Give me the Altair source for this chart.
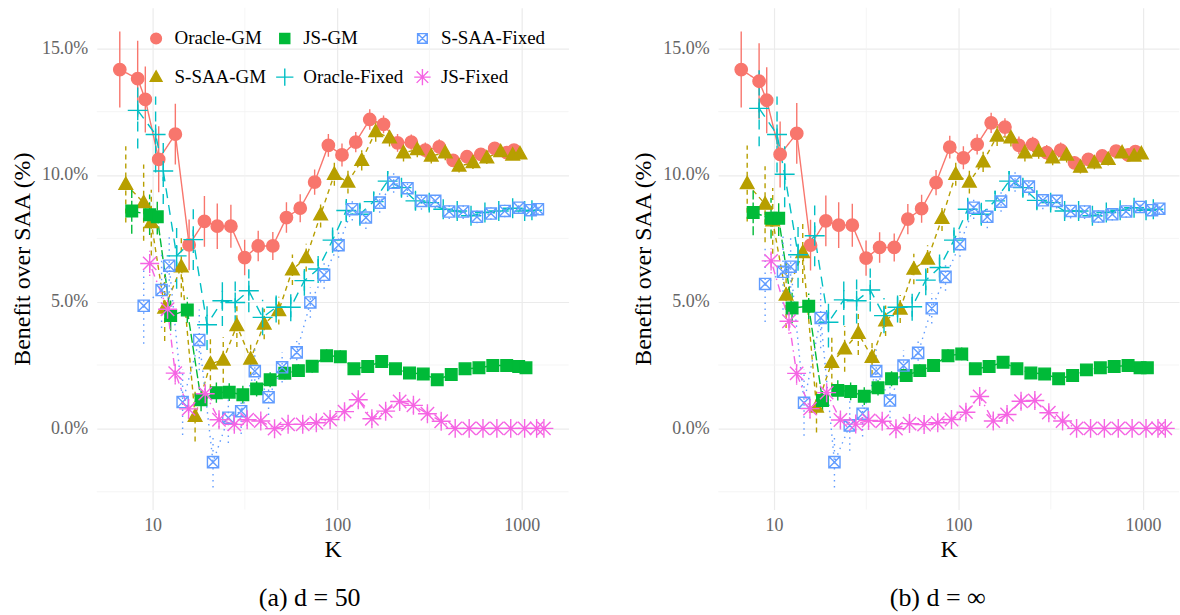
import altair as alt
import pandas as pd

FONT = "Liberation Serif"

# K grid (true K values, before the per-series dodge)
K = [8, 10, 11, 13, 16, 19, 23, 27, 32, 38, 45, 54, 64, 76, 91, 108, 128, 152,
     181, 215, 256, 304, 362, 431, 512, 609, 724, 861, 1000, 1095]

series_order = ["Oracle-GM", "S-SAA-GM", "JS-GM", "Oracle-Fixed", "S-SAA-Fixed", "JS-Fixed"]

# ---- panel (a) d = 50 ----
oracle_gm_a = [14.16, 13.80, 12.98, 10.62, 11.61, 7.24, 8.17, 7.98, 7.98, 6.74, 7.20, 7.20, 8.32, 8.69, 9.72,
               11.17, 10.79, 11.30, 12.19, 12.00, 11.27, 11.30, 10.98, 11.11, 10.58, 10.72, 10.81, 11.05, 10.88, 10.98]
ssaa_gm_a = [9.63, 8.91, 8.12, 4.75, 6.38, 0.48, 2.55, 2.70, 4.06, 2.74, 4.12, 4.65, 6.26, 6.74, 8.43,
             10.03, 9.72, 10.58, 11.71, 11.47, 10.88, 11.00, 10.75, 10.88, 10.35, 10.49, 10.68, 10.92, 10.79, 10.84]
js_gm_a = [8.58, 8.43, 8.35, 4.45, 4.67, 1.13, 1.41, 1.43, 1.33, 1.56, 1.92, 2.18, 2.28, 2.45, 2.87,
           2.83, 2.35, 2.44, 2.64, 2.35, 2.19, 2.15, 1.92, 2.13, 2.35, 2.39, 2.48, 2.48, 2.44, 2.39]
oracle_fixed_a = [12.55, 11.60, 10.16, 6.81, 7.45, 4.09, 5.04, 4.97, 5.43, 4.38, 4.78, 4.78, 5.83, 6.29, 7.43,
                  8.60, 8.45, 8.95, 9.76, 9.50, 8.98, 8.91, 8.65, 8.58, 8.39, 8.52, 8.58, 8.69, 8.58, 8.61]
ssaa_fixed_a = [4.84, 5.46, 6.42, 1.04, 3.49, -1.33, 0.42, 0.68, 2.26, 1.23, 2.41, 3.00, 4.97, 6.06, 7.23,
                8.65, 8.32, 8.91, 9.70, 9.48, 8.98, 8.98, 8.56, 8.56, 8.35, 8.48, 8.58, 8.71, 8.61, 8.65]
js_fixed_a = [6.51, 4.70, 2.18, 0.77, 1.37, 0.34, 0.16, 0.34, 0.29, -0.01, 0.16, 0.16, 0.22, 0.35, 0.66,
              1.13, 0.38, 0.68, 1.06, 0.91, 0.58, 0.28, 0, 0, 0, 0, 0, 0, 0, 0]

# ---- panel (b) d = infinity ----
oracle_gm_b = [14.16, 13.70, 12.95, 10.81, 11.64, 7.23, 8.19, 8.02, 8.02, 6.72, 7.14, 7.14, 8.26, 8.67, 9.70,
               11.10, 10.68, 11.21, 12.06, 11.89, 11.17, 11.21, 10.88, 10.98, 10.48, 10.62, 10.75, 10.94, 10.79, 10.92]
ssaa_gm_b = [9.66, 8.85, 8.19, 5.26, 6.94, 0.84, 2.61, 3.14, 3.75, 2.81, 4.25, 4.71, 6.29, 6.68, 8.29,
             10.03, 9.72, 10.52, 11.54, 11.47, 10.88, 10.94, 10.68, 10.79, 10.31, 10.48, 10.62, 10.88, 10.75, 10.84]
js_gm_b = [8.52, 8.29, 8.29, 4.75, 4.82, 1.10, 1.50, 1.46, 1.27, 1.60, 1.96, 2.09, 2.28, 2.48, 2.87,
           2.94, 2.35, 2.44, 2.61, 2.35, 2.19, 2.15, 1.96, 2.09, 2.31, 2.39, 2.44, 2.48, 2.39, 2.39]
oracle_fixed_b = [12.63, 11.60, 10.03, 6.85, 7.60, 4.19, 5.07, 5.04, 5.46, 4.45, 4.78, 4.80, 5.85, 6.35, 7.43,
                  8.65, 8.45, 8.98, 9.76, 9.50, 9.00, 8.91, 8.58, 8.58, 8.39, 8.52, 8.61, 8.71, 8.61, 8.65]
ssaa_fixed_b = [5.70, 6.18, 6.38, 1.01, 4.36, -1.33, 0.12, 0.58, 2.26, 1.10, 2.48, 2.98, 4.74, 5.98, 7.27,
                8.71, 8.35, 8.95, 9.74, 9.54, 9.00, 8.98, 8.58, 8.56, 8.36, 8.45, 8.56, 8.74, 8.61, 8.67]
js_fixed_b = [6.61, 4.23, 2.17, 0.78, 1.41, 0.33, 0.17, 0.31, 0.28, -0.01, 0.19, 0.15, 0.22, 0.35, 0.64,
              1.26, 0.29, 0.55, 1.07, 1.10, 0.62, 0.29, 0, 0, 0, 0, 0, 0, 0, 0]

# error-bar half widths (percentage points)
err_wide = [1.5, 1.5, 1.3, 1.3, 1.2, 1.0, 1.0, 0.9, 0.85, 0.7, 0.6, 0.55, 0.6, 0.55, 0.5,
            0.45, 0.45, 0.4, 0.4, 0.35, 0.35, 0.3, 0.3, 0.3, 0.25, 0.25, 0.25, 0.2, 0.2, 0.2]
err_js_gm = [0.9, 0.8, 0.7, 0.6, 0.5, 0.45, 0.4, 0.35, 0.35, 0.3, 0.3, 0.25, 0.25, 0.25, 0.25,
             0.25, 0.2, 0.2, 0.2, 0.2, 0.2, 0.15, 0.15, 0.15, 0.15, 0.15, 0.1, 0.1, 0.1, 0.1]
err_js_fixed = [0.5, 0.5, 0.45, 0.4, 0.35, 0.3, 0.25, 0.25, 0.2, 0.2, 0.2, 0.2, 0.2, 0.2, 0.25,
                 0.3, 0.25, 0.25, 0.3, 0.3, 0.25, 0.2, 0, 0, 0, 0, 0, 0, 0, 0]

minor_y_vals = [-2.5, 2.5, 7.5, 12.5]
minor_x_vals = [31.62, 316.2]

colors = {"Oracle-GM": "#F8766D", "S-SAA-GM": "#B79F00", "JS-GM": "#00BA38",
          "Oracle-Fixed": "#00BFC4", "S-SAA-Fixed": "#619CFF", "JS-Fixed": "#F564E3"}
fills = {"Oracle-GM": "#F8766D", "S-SAA-GM": "#B79F00", "JS-GM": "#00BA38",
         "Oracle-Fixed": "transparent", "S-SAA-Fixed": "transparent", "JS-Fixed": "transparent"}
shapes = {
    "Oracle-GM": "M-0.62,0A0.62,0.62 0 1,0 0.62,0A0.62,0.62 0 1,0 -0.62,0Z",
    "S-SAA-GM": "M0,-0.72L0.68,0.5L-0.68,0.5Z",
    "JS-GM": "M-0.58,-0.58L0.58,-0.58L0.58,0.58L-0.58,0.58Z",
    "Oracle-Fixed": "M-1,0L1,0M0,-1L0,1",
    "S-SAA-Fixed": "M-0.56,-0.56L0.56,-0.56L0.56,0.56L-0.56,0.56ZM-0.56,-0.56L0.56,0.56M-0.56,0.56L0.56,-0.56",
    "JS-Fixed": "M-0.95,0L0.95,0M0,-0.95L0,0.95M-0.67,-0.67L0.67,0.67M-0.67,0.67L0.67,-0.67",
}
dashes = {"Oracle-GM": [1, 0], "S-SAA-GM": [5, 4], "JS-GM": [9, 3],
          "Oracle-Fixed": [10, 7], "S-SAA-Fixed": [1.5, 4.5], "JS-Fixed": [1.5, 4.5, 8, 4.5]}

DODGE = 0.0324  # log10 units between neighbouring series


def build_df(vals):
    errs = {"Oracle-GM": err_wide, "S-SAA-GM": err_wide, "JS-GM": err_js_gm,
            "Oracle-Fixed": err_wide, "S-SAA-Fixed": err_wide, "JS-Fixed": err_js_fixed}
    rows = []
    for i, s in enumerate(series_order):
        for k, v, e in zip(K, vals[s], errs[s]):
            rows.append({"series": s, "K": k, "kx": k * 10 ** ((i - 2.5) * DODGE),
                         "value": v, "lo": v - e, "hi": v + e})
    return pd.DataFrame(rows)


df_a = build_df({"Oracle-GM": oracle_gm_a, "S-SAA-GM": ssaa_gm_a, "JS-GM": js_gm_a,
                 "Oracle-Fixed": oracle_fixed_a, "S-SAA-Fixed": ssaa_fixed_a, "JS-Fixed": js_fixed_a})
df_b = build_df({"Oracle-GM": oracle_gm_b, "S-SAA-GM": ssaa_gm_b, "JS-GM": js_gm_b,
                 "Oracle-Fixed": oracle_fixed_b, "S-SAA-Fixed": ssaa_fixed_b, "JS-Fixed": js_fixed_b})

stroke_scale = alt.Scale(domain=series_order, range=[colors[s] for s in series_order])
fill_scale = alt.Scale(domain=series_order, range=[fills[s] for s in series_order])
shape_scale = alt.Scale(domain=series_order, range=[shapes[s] for s in series_order])

yscale = alt.Scale(domain=[-3.2, 16.6], nice=False, zero=False)


def make_panel(df, caption, width, xmax, dx):
    xscale = alt.Scale(type="log", domain=[4.98, xmax], nice=False)
    xaxis = alt.Axis(values=[10, 100, 1000], format="d", title="K", grid=True,
                     gridColor="#EBEBEB", gridWidth=1.2, ticks=False, tickSize=0, domain=False,
                     labelFontSize=18, labelFont=FONT, labelColor="#666666", labelPadding=7,
                     titleFontSize=24, titleFont=FONT, titleFontWeight="normal", titleColor="black",
                     titlePadding=3, labelFlush=False)
    yaxis = alt.Axis(values=[0, 5, 10, 15], labelExpr="format(datum.value, '.1f') + '%'",
                     title="Benefit over SAA (%)", grid=True, gridColor="#EBEBEB", gridWidth=1.2,
                     ticks=False, tickSize=0, domain=False,
                     labelFontSize=18, labelFont=FONT, labelColor="#666666", labelPadding=9,
                     titleFontSize=24, titleFont=FONT, titleFontWeight="normal", titleColor="black",
                     titlePadding=7)
    legend = alt.Legend(title=None, orient="none", legendX=50, legendY=21, columns=3,
                        columnPadding=7, rowPadding=17, labelFontSize=19, labelFont=FONT,
                        labelColor="black", symbolSize=300, symbolStrokeWidth=1.4,
                        labelOffset=9, labelLimit=0)

    minor_y = alt.Chart(pd.DataFrame({"v": minor_y_vals})).mark_rule(
        color="#F2F2F2", strokeWidth=0.8).encode(y=alt.Y("v:Q", scale=yscale, axis=yaxis))
    minor_x = alt.Chart(pd.DataFrame({"k": minor_x_vals})).mark_rule(
        color="#F2F2F2", strokeWidth=0.8).encode(x=alt.X("k:Q", scale=xscale, axis=xaxis))

    base = alt.Chart(df)
    x = alt.X("kx:Q", scale=xscale, axis=xaxis)
    layers = [minor_y, minor_x]
    for s in series_order:
        sub = base.transform_filter(alt.datum.series == s)
        layers.append(sub.mark_rule(strokeWidth=1.4, stroke=colors[s], strokeDash=dashes[s]).encode(
            x=x, y=alt.Y("lo:Q", scale=yscale, axis=yaxis), y2="hi:Q"))
        layers.append(sub.mark_line(strokeWidth=1.4, stroke=colors[s], strokeDash=dashes[s]).encode(
            x=x, y=alt.Y("value:Q", scale=yscale, axis=yaxis)))
    points = base.mark_point(size=400, strokeWidth=1.4, opacity=1, filled=False).encode(
        x=x, y=alt.Y("value:Q", scale=yscale, axis=yaxis),
        stroke=alt.Stroke("series:N", scale=stroke_scale, legend=legend),
        fill=alt.Fill("series:N", scale=fill_scale, legend=legend),
        shape=alt.Shape("series:N", scale=shape_scale, legend=legend))
    layers.append(points)

    return alt.layer(*layers).properties(
        width=width, height=503,
        title=alt.TitleParams(caption, orient="bottom", anchor="middle", frame="group",
                              fontSize=26, font=FONT, fontWeight="normal", color="black",
                              offset=24, dx=dx))


left = make_panel(df_a, "(a)  d = 50", 473, 1795, -23)
right = make_panel(df_b, "(b)  d = ∞", 462, 1566, -11)

chart = alt.hconcat(left, right, spacing=62).properties(
    padding={"left": 10, "top": 6, "right": 0, "bottom": 0}
).configure_view(stroke=None).resolve_scale(x="independent")

chart.save("out.html", embed_options={"renderer": "svg", "actions": False})
